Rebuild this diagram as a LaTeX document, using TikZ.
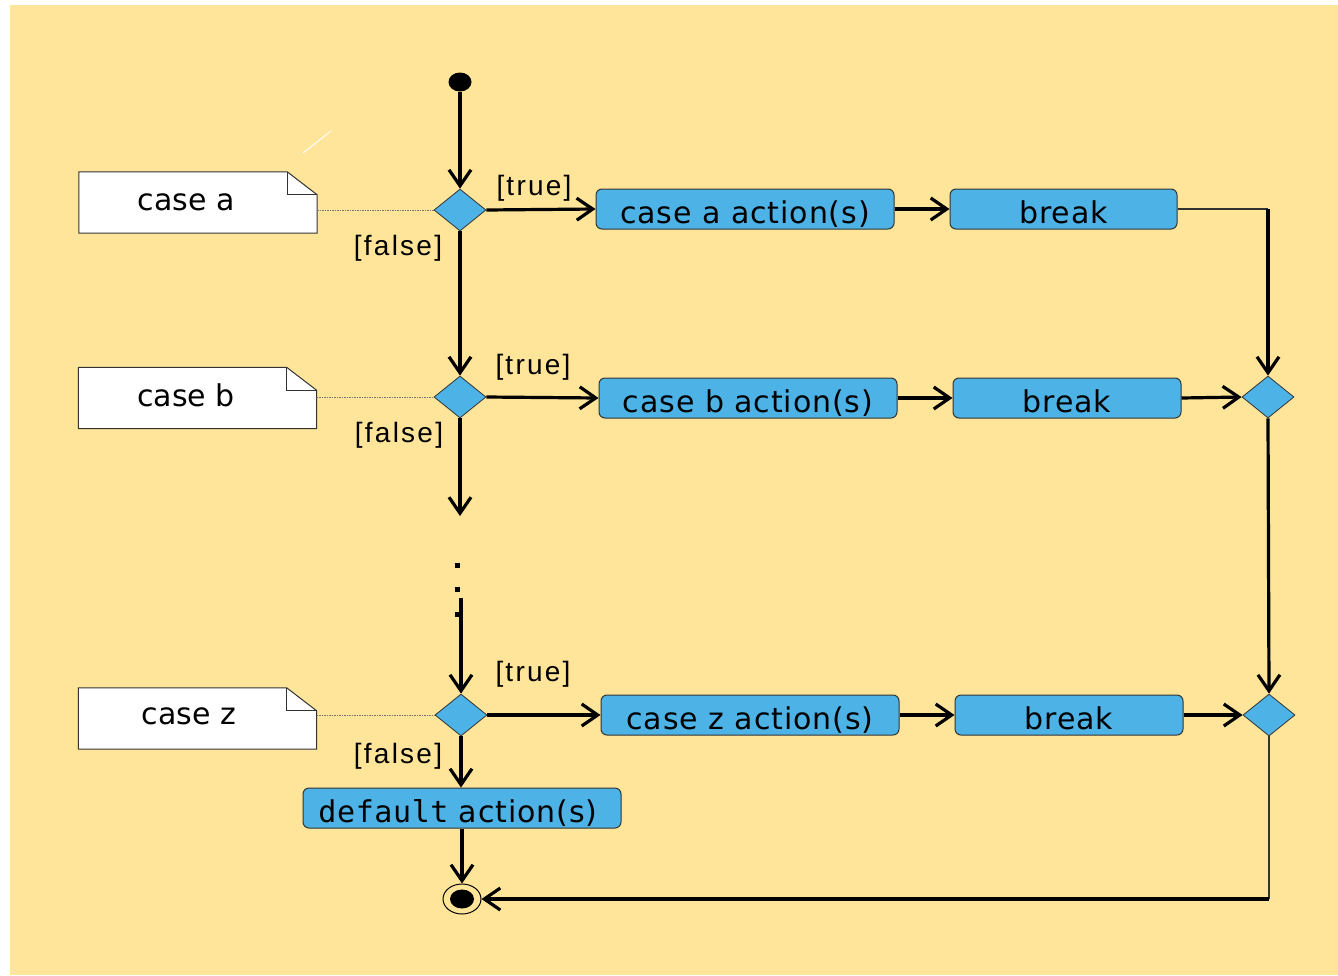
\documentclass[tikz,border=0pt]{standalone}
\usepackage{fontspec}
\setmainfont{DejaVu Sans}
\newfontfamily\actfont[LetterSpace=3]{DejaVu Sans}
\newfontfamily\monofont[LetterSpace=2]{DejaVu Sans Mono}
\newfontfamily\guardfont[LetterSpace=8]{Liberation Sans}
\usetikzlibrary{shapes.geometric,arrows.meta}
\definecolor{bgyellow}{HTML}{FFE599}
\definecolor{actblue}{HTML}{4DB2E6}
\definecolor{edgegray}{HTML}{333333}

\begin{document}
\begin{tikzpicture}[x=1pt,y=-1pt,
  every node/.style={inner sep=0pt},
  act/.style={draw=edgegray, line width=1pt, fill=actblue, rounded corners=6pt,
    minimum height=40pt, text height=30pt, text depth=2pt,
    font=\actfont\fontsize{30}{36}\selectfont},
  dec/.style={diamond, draw=edgegray, line width=0.8pt, fill=actblue,
    minimum width=52pt, minimum height=42pt},
  notebox/.style={minimum width=238pt, minimum height=61pt},
  notetext/.style={font=\fontsize{30}{36}\selectfont},
  guard/.style={font=\guardfont\fontsize{28}{32}\selectfont},
  flow/.style={line width=3.2pt, -{Straight Barb[length=16pt,width=22pt]}},
  plain/.style={line width=1.2pt, draw=edgegray},
  notelink/.style={line width=0.8pt, draw=black!55, dash pattern=on 1.5pt off 1pt},
]
\useasboundingbox (0,0) rectangle (1338,975);
\fill[white] (0,0) rectangle (1338,975);
\fill[bgyellow] (10,5) rectangle (1338,975);
\draw[white, line width=1pt] (303,153) -- (331,131);

% initial and final states
\node[ellipse, fill=black, minimum width=23pt, minimum height=19pt] (start) at (460,82) {};
\node[ellipse, draw=black, line width=1pt, fill=bgyellow, minimum width=38pt, minimum height=30pt] (final) at (462,899) {};
\node[ellipse, fill=black, minimum width=24pt, minimum height=19pt] (finaldot) at (final.center) {};

% decisions and merges
\node[dec] (d1) at (460,210) {};
\node[dec] (d2) at (460,397) {};
\node[dec] (d3) at (461,715) {};
\node[dec] (m1) at (1268,397) {};
\node[dec] (m2) at (1269,715) {};

% actions
\node[act, minimum width=298pt] (aa) at (745,209) {case a action(s)};
\node[act, minimum width=227pt] (ba) at (1063.5,209) {break};
\node[act, minimum width=298pt] (ab) at (748,398) {case b action(s)};
\node[act, minimum width=228pt] (bb) at (1067,398) {break};
\node[act, minimum width=298pt] (az) at (750,715) {case z action(s)};
\node[act, minimum width=228pt] (bz) at (1069,715) {break};
\node[act, minimum width=318pt] (dflt) at (462,808) {{\monofont default} action(s)\hspace*{8pt}};

% notes
\node[notebox] (na) at (198,202.5) {};
\node[notebox] (nb) at (197.5,398) {};
\node[notebox] (nz) at (197.5,718.5) {};
\foreach \n in {na,nb,nz}{
  \filldraw[fill=white, draw=edgegray, line width=1pt]
    (\n.north west) -- ([xshift=-30pt]\n.north east) -- ([yshift=-23pt]\n.north east)
    -- (\n.south east) -- (\n.south west) -- cycle;
  \draw[edgegray, line width=1pt] ([xshift=-30pt]\n.north east)
    -- ([xshift=-30pt,yshift=-23pt]\n.north east) -- ([yshift=-23pt]\n.north east);
}
\node[notetext] (ta) at (186,202) {case a};
\node[notetext] (tb) at (186,395) {case b};
\node[notetext] (tz) at (189,716) {case z};

\draw[notelink] (na.east |- d1) -- (d1.west);
\draw[notelink] (nb.east |- d2) -- (d2.west);
\draw[notelink] (nz.east |- d3) -- (d3.west);

% main control flow
\draw[flow] (start) -- (d1.north);
\draw[flow] (d1.east) -- (aa.west);
\draw[flow] (aa.east) -- (ba.west);
\draw[flow] (d1.south) -- (d2.north);
\draw[flow] (d2.east) -- (ab.west);
\draw[flow] (ab.east) -- (bb.west);
\draw[flow] (bb.east) -- (m1.west);
\coordinate (cont) at (460,516);
\draw[flow] (d2.south) -- (cont);
\foreach \y in {563,587,612} \fill (455,\y) rectangle +(5,5);
\coordinate (resume) at (461,598);
\draw[flow] (resume) -- (d3.north);
\draw[flow] (d3.east) -- (az.west);
\draw[flow] (az.east) -- (bz.west);
\draw[flow] (bz.east) -- (m2.west);
\draw[flow] (d3.south) -- (d3.south |- dflt.north);
\draw[flow] (final.north |- dflt.south) -- (final.north);

% break a joins the first merge
\coordinate (turn1) at (ba.east -| m1);
\draw[plain] (ba.east) -- (turn1);
\draw[flow] (turn1) -- (m1.north);
\draw[flow] (m1.south) -- (m2.north);

% return to the final state
\coordinate (turn2) at (m2.south |- final.east);
\draw[plain] (m2.south) -- (turn2);
\draw[flow] (turn2) -- (final.east);

% guards
\node[guard] (g1t) at (534,188) {[true]};
\node[guard] (g1f) at (398,248) {[false]};
\node[guard] (g2t) at (533,367) {[true]};
\node[guard] (g2f) at (399,435) {[false]};
\node[guard] (g3t) at (533,674) {[true]};
\node[guard] (g3f) at (398,756) {[false]};
\end{tikzpicture}
\end{document}
